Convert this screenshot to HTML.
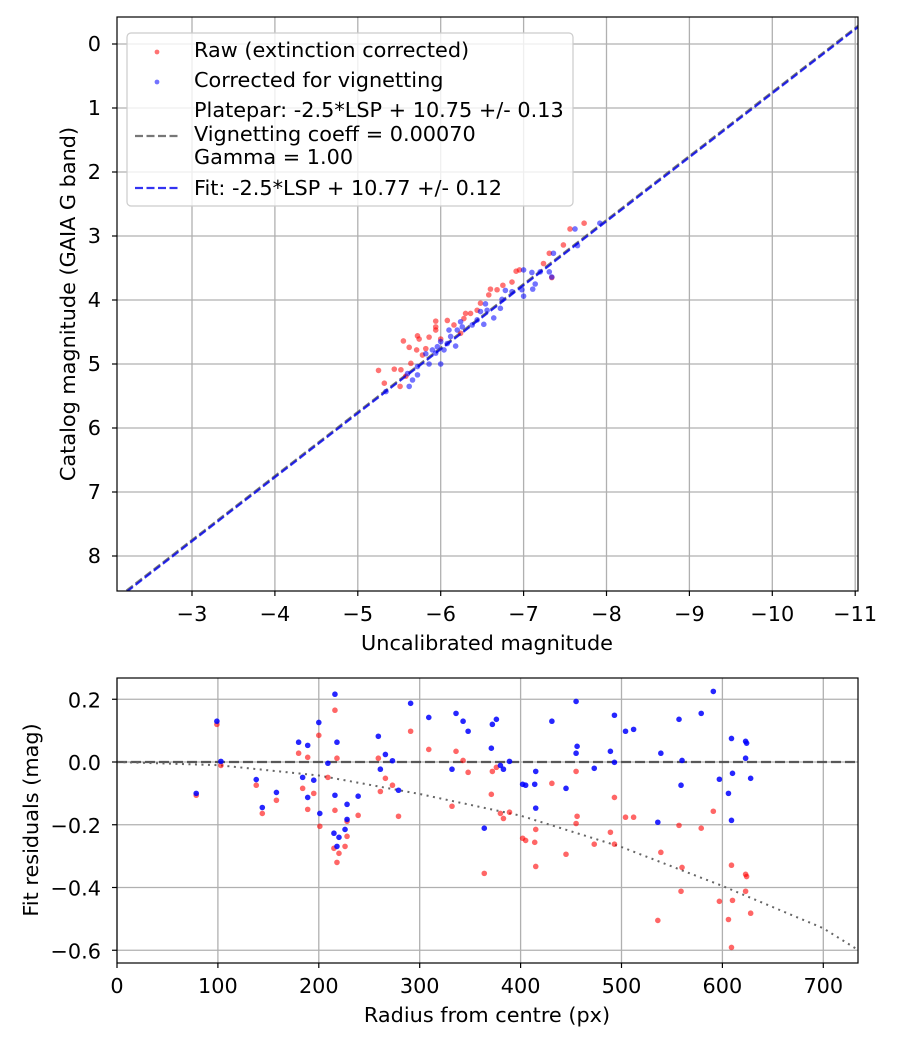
<!DOCTYPE html>
<html><head><meta charset="utf-8"><style>
body{margin:0;background:#fff;}
svg text{font-family:"DejaVu Sans","Liberation Sans",sans-serif;font-size:20.8px;fill:#000;}
</style></head><body>
<svg id="fig" width="900" height="1050" xmlns="http://www.w3.org/2000/svg">
<rect width="900" height="1050" fill="#fff"/>
<g id="top"></g>
<g id="bot"></g>
</svg>
<script>
// ---- top chart data ----
const topXTicks = [-3,-4,-5,-6,-7,-8,-9,-10,-11];
const topYTicks = [0,1,2,3,4,5,6,7,8];
const rawX = [-7.73,-7.56,-7.48,-7.31,-7.24,-7.34,-6.91,-6.95,-6.86,-6.75,-6.60,-6.68,-6.58,-6.48,-6.44,-6.36,-6.30,-6.08,-5.94,-6.16,-5.94,-5.94,-5.72,-5.74,-5.86,-5.55,-5.62,-5.71,-5.82,-5.78,-6.00,-5.44,-5.64,-5.25,-5.52,-5.58,-5.32,-5.51,-6.24,-6.28];
const rawY = [2.80,2.89,3.14,3.27,3.43,3.65,3.55,3.53,3.72,3.77,3.83,3.84,3.92,4.05,4.16,4.21,4.21,4.32,4.33,4.39,4.42,4.47,4.56,4.61,4.58,4.64,4.74,4.78,4.76,4.86,4.61,5.08,4.99,5.10,5.09,5.19,5.30,5.35,4.52,4.29];
const corX = [-7.62,-7.92,-7.65,-7.36,-7.31,-7.34,-7.20,-7.10,-7.00,-6.98,-7.11,-7.14,-7.00,-6.86,-6.78,-6.74,-6.72,-6.64,-6.54,-6.56,-6.48,-6.44,-6.38,-6.52,-6.24,-6.20,-6.12,-6.10,-6.00,-5.96,-5.90,-5.82,-6.04,-6.18,-5.86,-6.00,-5.72,-5.66,-5.60,-5.62,-5.34,-5.72,-5.94,-6.08,-6.26];
const corY = [2.89,2.80,3.15,3.27,3.56,3.64,3.56,3.57,3.53,3.84,3.83,3.75,3.94,3.87,3.85,3.99,4.13,4.28,4.06,4.16,4.18,4.31,4.39,4.38,4.34,4.47,4.57,4.47,4.65,4.73,4.78,4.84,4.78,4.72,5.00,5.00,5.17,5.25,5.15,5.35,5.43,5.04,4.83,4.68,4.42];
const platepar = [10.75];
const fitZero = [10.77];
// ---- bottom chart data ----
const botXTicks = [0,100,200,300,400,500,600,700];
const botYTicks = [0.2,0,-0.2,-0.4,-0.6];
const resR = [78.5,99,103,138,144,158,180,189,184,195,189,200,201,209,216,218,216,215,220,218,226,228,228,239,259,261,266,273,279,291,309,336,343,348,332,364,372,376,371,380,383,389,402,405,414,415,415,431,445,455,456,455,473,489,493,493,504,512,536,539,557,559,560,579,591,597,606,609,610,609,623,624,623,628];
const resCor = [-0.1,0.13,0.002,-0.056,-0.145,-0.097,0.063,0.053,-0.049,-0.058,-0.113,0.126,-0.164,-0.004,0.216,0.063,-0.106,-0.227,-0.24,-0.269,-0.215,-0.135,-0.183,-0.109,0.082,-0.023,0.024,0.004,-0.09,0.187,0.142,0.155,0.13,0.098,-0.023,-0.211,0.12,0.136,0.044,-0.011,-0.023,0.002,-0.071,-0.074,-0.071,-0.03,-0.147,0.13,-0.084,0.193,0.05,0.028,-0.02,0.034,0.149,-0.001,0.098,0.104,-0.192,0.028,0.136,-0.074,0.005,0.155,0.225,-0.055,-0.1,0.075,-0.036,-0.186,0.066,0.06,0.012,-0.052];
const resRaw = [-0.106,0.12,-0.011,-0.074,-0.164,-0.122,0.028,0.015,-0.084,-0.1,-0.151,0.085,-0.205,-0.049,0.165,0.012,-0.154,-0.275,-0.291,-0.32,-0.269,-0.237,-0.189,-0.17,0.012,-0.094,-0.052,-0.074,-0.173,0.098,0.04,0.034,0.005,-0.033,-0.141,-0.355,-0.03,-0.017,-0.103,-0.164,-0.18,-0.16,-0.243,-0.25,-0.256,-0.215,-0.333,-0.068,-0.294,-0.03,-0.173,-0.196,-0.262,-0.224,-0.113,-0.262,-0.176,-0.176,-0.505,-0.288,-0.202,-0.412,-0.336,-0.211,-0.157,-0.444,-0.502,-0.329,-0.441,-0.591,-0.358,-0.365,-0.412,-0.482];
const vigR = [0,100,200,300,400,500,600,700,735];
const vigV = [0,-0.01,-0.043,-0.102,-0.171,-0.271,-0.395,-0.53,-0.6];

const NS='http://www.w3.org/2000/svg';
function mk(parent,tag,attrs,text){const e=document.createElementNS(NS,tag);for(const k in attrs)e.setAttribute(k,attrs[k]);if(text!==undefined)e.textContent=text;parent.appendChild(e);return e;}
const fmt=v=>(v<0?'\u2212':'')+Math.abs(v).toString();

// ---- top ----
(function(){
const g=document.getElementById('top');
const L=117,R=858,T=17,B=591;
const x=v=>192+(-3-v)*82.9;      // inverted axis
const y=v=>44+v*64;
mk(g,'clipPath',{id:'ct'}).appendChild(document.createElementNS(NS,'rect'));
const cr=document.querySelector('#ct rect');cr.setAttribute('x',L);cr.setAttribute('y',T);cr.setAttribute('width',R-L);cr.setAttribute('height',B-T);
topXTicks.forEach(t=>{const px=x(t);
 const gl=mk(g,'line',{x1:px,x2:px,y1:T,y2:B,stroke:'#b0b0b0','stroke-width':1.3});
 
 mk(g,'line',{x1:px,x2:px,y1:B,y2:B+5,stroke:'#000','stroke-width':1.2});
 const tl=mk(g,'text',{x:px,y:B+30,'text-anchor':'middle'},fmt(t));
 });
topYTicks.forEach(t=>{const py=y(t);
 const gl=mk(g,'line',{x1:L,x2:R,y1:py,y2:py,stroke:'#b0b0b0','stroke-width':1.3});
 
 mk(g,'line',{x1:L-5,x2:L,y1:py,y2:py,stroke:'#000','stroke-width':1.2});
 const tl=mk(g,'text',{x:L-16,y:py+7,'text-anchor':'end'},fmt(t));
 });
const cg=mk(g,'g',{'clip-path':'url(#ct)'});
const x0=-2.1,x1=-11.1;
const pl=mk(cg,'line',{x1:x(x0),y1:y(x0+platepar[0]),x2:x(x1),y2:y(x1+platepar[0]),stroke:'#555','stroke-opacity':0.8,'stroke-width':2.2,'stroke-dasharray':'8,3.5'});

rawX.forEach((v,i)=>{const c=mk(cg,'circle',{cx:x(v),cy:y(rawY[i]),r:2.8,fill:'#ff0000','fill-opacity':0.55});
 });
corX.forEach((v,i)=>{const c=mk(cg,'circle',{cx:x(v),cy:y(corY[i]),r:2.8,fill:'#0000ff','fill-opacity':0.55});
 });
const fl=mk(cg,'line',{x1:x(x0),y1:y(x0+fitZero[0]),x2:x(x1),y2:y(x1+fitZero[0]),stroke:'#0000ee','stroke-opacity':0.8,'stroke-width':2.2,'stroke-dasharray':'8,3.5'});

mk(g,'rect',{x:L,y:T,width:R-L,height:B-T,fill:'none',stroke:'#000','stroke-width':1.2});
const xl=mk(g,'text',{x:487,y:650,'text-anchor':'middle'},'Uncalibrated magnitude');

const yl=mk(g,'text',{x:0,y:0,'text-anchor':'middle',transform:'translate(75,304) rotate(-90)'},'Catalog magnitude (GAIA G band)');

// legend
const lg=mk(g,'g',{});

mk(lg,'rect',{x:127,y:33,width:446,height:173,rx:4,fill:'#fff','fill-opacity':0.8,stroke:'#ccc','stroke-width':1.2});
mk(lg,'circle',{cx:157,cy:52,r:2.4,fill:'#f00','fill-opacity':0.55});
mk(lg,'text',{x:194,y:57},'Raw (extinction corrected)');
mk(lg,'circle',{cx:157,cy:82,r:2.4,fill:'#00f','fill-opacity':0.55});
mk(lg,'text',{x:194,y:87},'Corrected for vignetting');
mk(lg,'line',{x1:135,x2:180,y1:136,y2:136,stroke:'#555','stroke-opacity':0.8,'stroke-width':2.2,'stroke-dasharray':'8,3.5'});
mk(lg,'text',{x:194,y:117},'Platepar: -2.5*LSP + 10.75 +/- 0.13');
mk(lg,'text',{x:194,y:141},'Vignetting coeff = 0.00070');
mk(lg,'text',{x:194,y:164},'Gamma = 1.00');
mk(lg,'line',{x1:135,x2:180,y1:188,y2:188,stroke:'#0000ee','stroke-opacity':0.8,'stroke-width':2.2,'stroke-dasharray':'8,3.5'});
mk(lg,'text',{x:194,y:195},'Fit: -2.5*LSP + 10.77 +/- 0.12');
})();

// ---- bottom ----
(function(){
const g=document.getElementById('bot');
const L=117,R=858,T=678,B=963;
const x=v=>117+v*1.009;
const y=v=>762-v*313.75;
botXTicks.forEach(t=>{const px=x(t);
 const gl=mk(g,'line',{x1:px,x2:px,y1:T,y2:B,stroke:'#b0b0b0','stroke-width':1.3});
 
 mk(g,'line',{x1:px,x2:px,y1:B,y2:B+5,stroke:'#000','stroke-width':1.2});
 const tl=mk(g,'text',{x:px,y:B+30,'text-anchor':'middle'},String(t));
 });
botYTicks.forEach(t=>{const py=y(t);
 const gl=mk(g,'line',{x1:L,x2:R,y1:py,y2:py,stroke:'#b0b0b0','stroke-width':1.3});
 
 mk(g,'line',{x1:L-5,x2:L,y1:py,y2:py,stroke:'#000','stroke-width':1.2});
 const tl=mk(g,'text',{x:L-16,y:py+8,'text-anchor':'end'},t===0?'0.0':fmt(t));
 });
mk(g,'clipPath',{id:'cb'}).appendChild(document.createElementNS(NS,'rect'));
const cr=document.querySelector('#cb rect');cr.setAttribute('x',L);cr.setAttribute('y',T);cr.setAttribute('width',R-L);cr.setAttribute('height',B-T);
const cg=mk(g,'g',{'clip-path':'url(#cb)'});
const zl=mk(cg,'line',{x1:L,x2:R,y1:y(0),y2:y(0),stroke:'#444','stroke-opacity':0.85,'stroke-width':2.2,'stroke-dasharray':'10,4'});

const vp=mk(cg,'polyline',{points:vigR.map((r,i)=>x(r)+','+y(vigV[i])).join(' '),fill:'none',stroke:'#666','stroke-width':2,'stroke-dasharray':'2,4.5'});

resR.forEach((r,i)=>{const c=mk(cg,'circle',{cx:x(r),cy:y(resRaw[i]),r:2.8,fill:'#ff0000','fill-opacity':0.6});
 });
resR.forEach((r,i)=>{const c=mk(cg,'circle',{cx:x(r),cy:y(resCor[i]),r:2.8,fill:'#0000ff','fill-opacity':0.85});
 });
mk(g,'rect',{x:L,y:T,width:R-L,height:B-T,fill:'none',stroke:'#000','stroke-width':1.2});
const xl=mk(g,'text',{x:487,y:1022,'text-anchor':'middle'},'Radius from centre (px)');

const yl=mk(g,'text',{x:0,y:0,'text-anchor':'middle',transform:'translate(38,820) rotate(-90)'},'Fit residuals (mag)');

})();
</script>
</body></html>
